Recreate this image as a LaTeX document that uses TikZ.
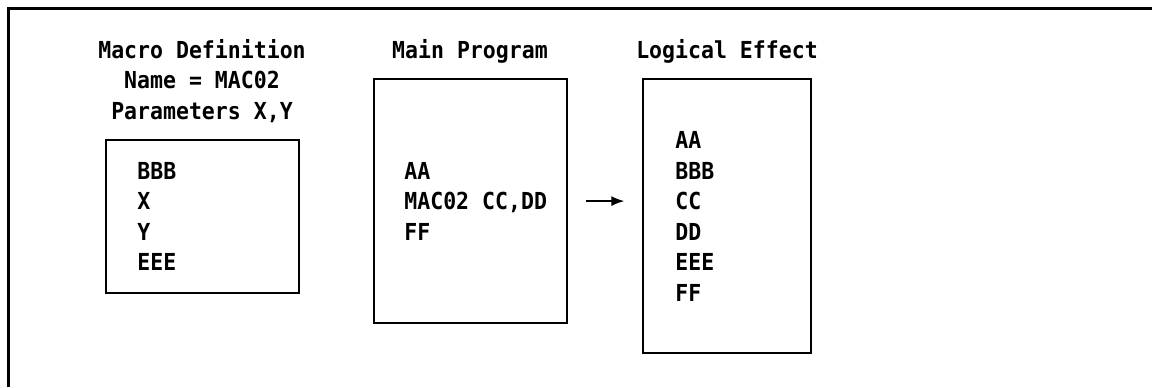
\documentclass[tikz,border=0pt]{standalone}
\usepackage{fontspec}
\setmonofont{DejaVu Sans Mono}[FakeStretch=0.92]
\usetikzlibrary{arrows.meta}

\begin{document}
\begin{tikzpicture}[x=0.5pt,y=-0.5pt,
 	every node/.style={inner sep=0pt,font=\fontsize{11.7}{15}\ttfamily\bfseries},
 	title/.style={anchor=base},
 	code/.style={anchor=base west,text height=8.5pt,text depth=0pt},
 	box/.style={draw=black,line width=0.7pt,rectangle},
 	arrow/.style={-{Latex[length=6.5pt,width=5pt]},line width=0.7pt,shorten <=9pt,shorten >=9pt}]
 	\useasboundingbox (0,0) rectangle (1152,387);
 	\draw [black,line width=1.25pt] (1152,8.5) -- (8.5,8.5) -- (8.5,387);
 	% titles
 	\node [title] (deftitle) at (202,58) {Macro Definition};
 	\node [title] (defname) at (202,88) {Name = MAC02};
 	\node [title] (defparm) at (202,119) {Parameters X,Y};
 	\node [title] (maintitle) at (470,58) {Main Program};
 	\node [title] (efftitle) at (727,58) {Logical Effect};
 	% boxes
 	\node [box,minimum width=96.5pt,minimum height=76.5pt] (defbox) at (202.5,216.5) {};
 	\node [box,minimum width=96.5pt,minimum height=122pt] (mainbox) at (470.5,201) {};
 	\node [box,minimum width=84pt,minimum height=137pt] (effbox) at (727,216) {};
 	% contents
 	\foreach \t [count=\i] in {BBB,X,Y,EEE}
 		\node [code] (def\i) at (137,148.4+30.6*\i) {\t};
 	\foreach \t [count=\i] in {AA,{MAC02 CC,DD},FF}
 		\node [code] (main\i) at (404,148.4+30.6*\i) {\t};
 	\foreach \t [count=\i] in {AA,BBB,CC,DD,EEE,FF}
 		\node [code] (eff\i) at (675,117.8+30.6*\i) {\t};
 	\draw [arrow] (mainbox.east |- main2.west) -- (effbox.west |- main2.west);
\end{tikzpicture}
\end{document}
